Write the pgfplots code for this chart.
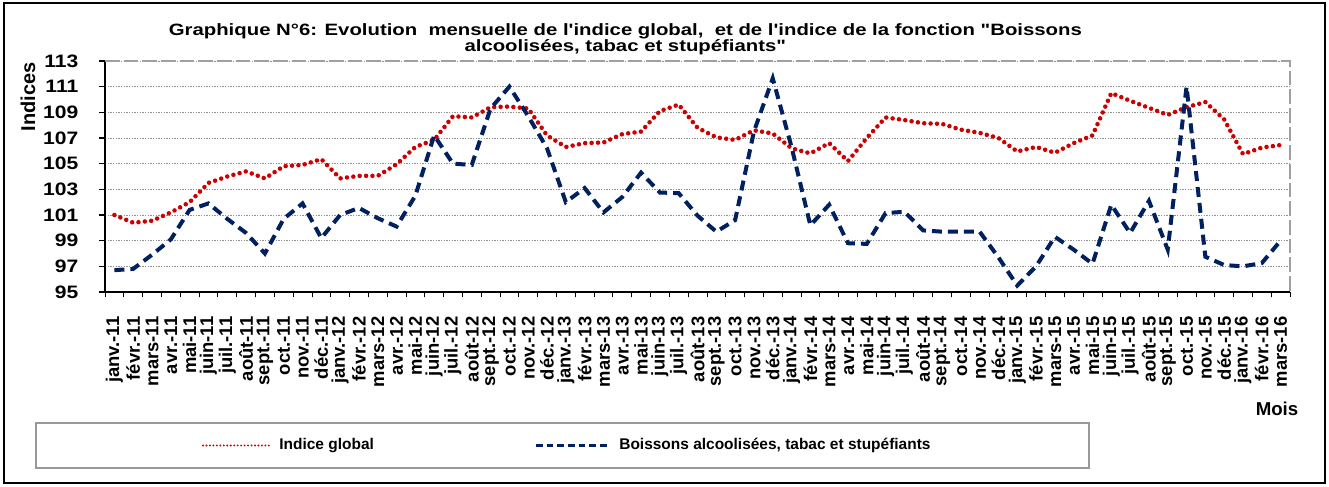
\documentclass[border=0pt]{standalone}
\usepackage{fontspec}
\setmainfont{Liberation Sans}[Ligatures=TeXOff]
\usepackage{pgfplots}
\pgfplotsset{compat=1.18}
\usepackage{pgfplotstable}
\definecolor{redline}{RGB}{204,0,0}
\definecolor{navyline}{RGB}{0,32,96}
\definecolor{bordergray}{RGB}{160,160,160}

\pgfplotstableread{
x global boissons
0 101.0 96.7
1 100.4 96.8
2 100.55 97.9
3 101.2 99.1
4 102.0 101.4
5 103.5 101.9
6 104.0 100.7
7 104.4 99.6
8 103.85 98.0
9 104.8 100.7
10 104.9 101.9
11 105.35 99.2
12 103.85 101.0
13 104.05 101.55
14 104.05 100.75
15 104.95 100.1
16 106.3 102.5
17 106.85 107.2
18 108.7 105.0
19 108.6 104.9
20 109.4 109.3
21 109.45 111.0
22 109.3 108.7
23 107.2 106.2
24 106.3 102.0
25 106.6 103.1
26 106.65 101.2
27 107.3 102.4
28 107.5 104.3
29 109.1 102.75
30 109.6 102.7
31 107.8 100.95
32 107.05 99.7
33 106.85 100.6
34 107.6 107.5
35 107.35 111.65
36 106.2 106.3
37 105.8 100.2
38 106.6 101.8
39 105.2 98.8
40 107.0 98.75
41 108.6 101.15
42 108.4 101.25
43 108.15 99.8
44 108.1 99.7
45 107.65 99.7
46 107.4 99.7
47 107.0 97.7
48 105.95 95.5
49 106.3 97.0
50 105.85 99.3
51 106.6 98.3
52 107.2 97.2
53 110.5 101.8
54 109.9 99.6
55 109.35 102.1
56 108.8 98.3
57 109.4 111.0
58 109.8 97.75
59 108.45 97.1
60 105.75 97.0
61 106.25 97.25
62 106.45 99.0
}\datatable

\begin{document}
\begin{tikzpicture}[x=1pt,y=1pt]
\path[use as bounding box] (0,0) rectangle (996.75,364.5);
\draw[black, line width=1.5pt] (3,2.25) rectangle (993.75,362.25);

\node[font=\fontsize{12.3}{14}\selectfont\bfseries, anchor=base, inner sep=0pt] at (469,338)
  {\scalebox{1.24}[1]{Graphique N°6: Evolution\ \ mensuelle de l'indice global,\ \ et de l'indice de la fonction "Boissons}};
\node[font=\fontsize{12.3}{14}\selectfont\bfseries, anchor=base, inner sep=0pt] at (469,325.5)
  {\scalebox{1.24}[1]{alcoolisées, tabac et stupéfiants"}};

\node[font=\fontsize{15}{18}\selectfont\bfseries, rotate=90] at (21,291.75) {Indices};
\node[font=\fontsize{14}{16}\selectfont\bfseries] at (957.75,57.75) {Mois};

\begin{axis}[
  at={(78.75pt,145.5pt)}, anchor=south west,
  scale only axis, width=888.75pt, height=173.25pt,
  xmin=-0.5, xmax=62.5, ymin=95, ymax=113,
  axis x line*=bottom, axis y line*=left,
  axis line style={black, line width=0.8pt},
  ytick={95,97,...,113},
  xtick={0,...,62},
  xticklabels={janv.-11,févr.-11,mars-11,avr.-11,mai-11,juin-11,juil.-11,août-11,sept.-11,oct.-11,nov.-11,déc.-11,
  janv.-12,févr.-12,mars-12,avr.-12,mai-12,juin-12,juil.-12,août-12,sept.-12,oct.-12,nov.-12,déc.-12,
  janv.-13,févr.-13,mars-13,avr.-13,mai-13,juin-13,juil.-13,août-13,sept.-13,oct.-13,nov.-13,déc.-13,
  janv.-14,févr.-14,mars-14,avr.-14,mai-14,juin-14,juil.-14,août-14,sept.-14,oct.-14,nov.-14,déc.-14,
  janv.-15,févr.-15,mars-15,avr.-15,mai-15,juin-15,juil.-15,août-15,sept.-15,oct.-15,nov.-15,déc.-15,
  janv.-16,févr.-16,mars-16},
  minor xtick={-0.5,0.5,...,62.5},
  tick align=outside,
  major tick length=4.5pt,
  minor tick length=4pt,
  major x tick style={draw=none},
  minor x tick style={black, line width=0.6pt},
  y tick style={black, line width=0.8pt},
  /pgf/number format/assume math mode=true,
  yticklabel={\scalebox{1.17}[1]{\pgfmathprintnumber{\tick}}},
  yticklabel style={font=\fontsize{13.5}{16}\selectfont\bfseries, xshift=-12pt},
  xticklabel style={rotate=90, anchor=east, font=\fontsize{13.8}{15}\selectfont\bfseries, xshift=-10.5pt},
  ymajorgrids,
  major grid style={draw=gray!85, line width=0.5pt, dash pattern=on 1pt off 1pt},
  clip=false,
]
\draw[bordergray, line width=1.6pt, dash pattern=on 11pt off 3pt]
  (rel axis cs:0,1) -- (rel axis cs:1,1) -- (rel axis cs:1,0);
\draw[bordergray, line width=1.2pt, dash pattern=on 11pt off 3pt]
  (rel axis cs:0,0) -- (rel axis cs:1,0);
\draw[black, line width=0.8pt] (rel axis cs:0,0) -- (rel axis cs:1,0);
\addplot[redline, line width=3.4pt, line cap=round, dash pattern=on 0pt off 4.8pt, mark=none] table[x=x, y=global] {\datatable};
\addplot[navyline, line width=3pt, dash pattern=on 7.5pt off 4.5pt, mark=none] table[x=x, y=boissons] {\datatable};
\end{axis}

\draw[gray!80, line width=0.8pt] (27,13.5) rectangle (816.75,47.25);
\draw[redline, line width=1.6pt, line cap=round, dash pattern=on 0pt off 2.6pt] (152.25,30.4) -- (202.5,30.4);
\node[anchor=west, font=\fontsize{11.6}{14}\selectfont\bfseries] at (206,30.4) {Indice global};
\draw[navyline, line width=2pt, dash pattern=on 5pt off 3pt] (402,30.4) -- (457.5,30.4);
\node[anchor=west, font=\fontsize{11.6}{14}\selectfont\bfseries] at (461,30.4) {Boissons alcoolisées, tabac et stupéfiants};
\end{tikzpicture}
\end{document}
